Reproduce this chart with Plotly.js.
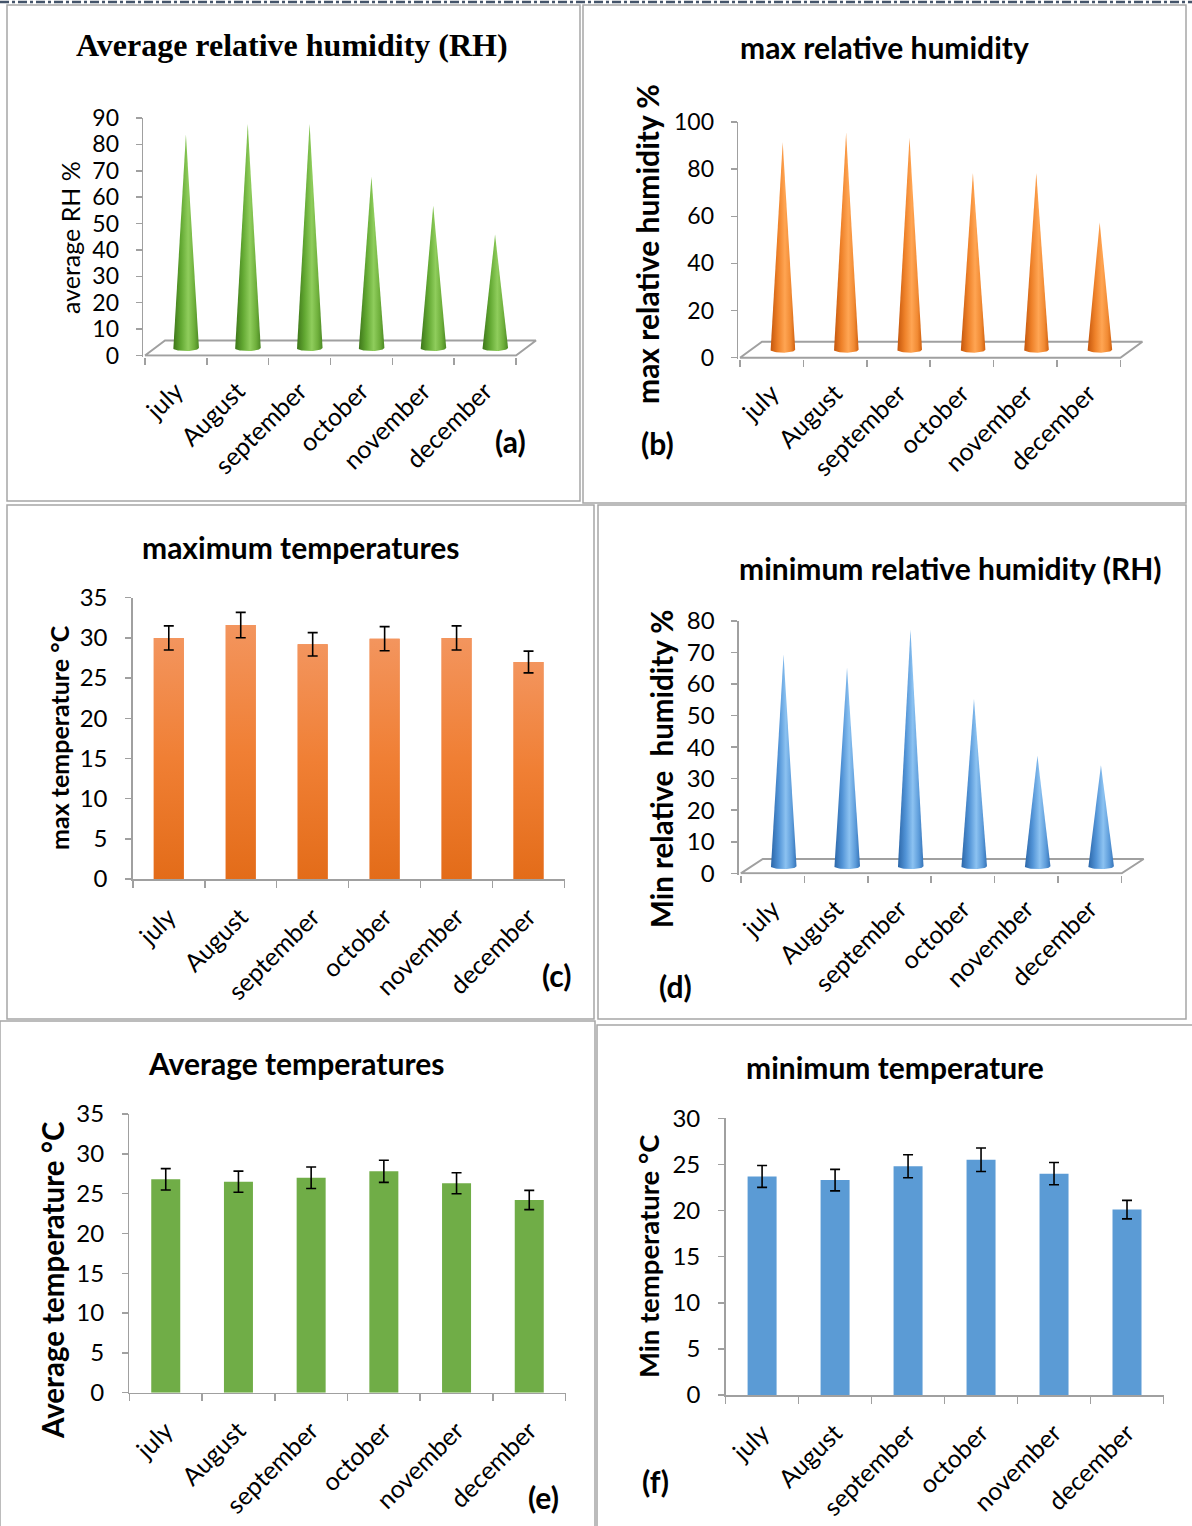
<!DOCTYPE html>
<html><head><meta charset="utf-8">
<script src="https://cdn.plot.ly/plotly-3.0.1.min.js"></script>
<style>html,body{margin:0;padding:0;background:#fff}#chart{width:1192px;height:1526px}</style>
</head><body><div id="chart"></div>
<script>
// ---------------- data ----------------
const months = ['july', 'August', 'september', 'october', 'november', 'december'];
const avgRH = [81, 85, 85, 65, 54, 43];
const maxRH = [88, 92, 90, 75, 75, 54];
const minRH = [67, 63, 75, 53, 35, 32];
const maxTemp = [30.0, 31.6, 29.2, 29.9, 30.0, 27.0];
const avgTemp = [26.8, 26.5, 27.0, 27.8, 26.3, 24.2];
const minTemp = [23.7, 23.3, 24.8, 25.5, 24.0, 20.1];
const errorPercent = 5;

const panelTitles = ['Average relative humidity (RH)', 'max relative humidity', 'maximum temperatures',
  'minimum relative humidity (RH)', 'Average temperatures', 'minimum temperature'];
const yTitles = ['average RH %', 'max relative humidity %', 'max temperature °C',
  'Min relative\u00A0 humidity %', 'Average temperature °C', 'Min temperature °C'];
const panelLetters = ['(a)', '(b)', '(c)', '(d)', '(e)', '(f)'];

// ---------------- helpers ----------------
const W = 1192, H = 1526;
const X = p => p / W, Y = p => 1 - p / H;
const SANS = 'Lato, "Open Sans", sans-serif';
const SERIF = '"Liberation Serif", "DejaVu Serif", serif';
const GRAY = '#A0A0A0';
const idx = months.map((m, i) => i);
const bounds = [-0.5, 0.5, 1.5, 2.5, 3.5, 4.5, 5.5];

const data = [];
const layout = {
  width: W, height: H, margin: {l: 0, r: 0, t: 0, b: 0},
  paper_bgcolor: '#fff', plot_bgcolor: 'rgba(0,0,0,0)', showlegend: false,
  shapes: [], annotations: []
};

function xAxisCfg(range, domain, tickSize, standoff, showline) {
  return {
    domain: domain, range: range, type: 'linear', fixedrange: true,
    tickmode: 'array', tickvals: idx, ticktext: months, tickangle: -45,
    ticks: '', showgrid: false, zeroline: false,
    showline: showline, linecolor: GRAY, linewidth: 1.5,
    tickfont: {family: SANS, size: tickSize, color: '#000'},
    ticklabelstandoff: standoff,
    minor: {tickmode: 'array', tickvals: bounds, ticks: 'outside', ticklen: 7, tickcolor: GRAY, tickwidth: 1.5, showgrid: false}
  };
}
function yAxisCfg(range, domain, dtick, tickSize, standoff) {
  return {
    domain: domain, range: range, fixedrange: true, tickmode: 'linear', tick0: 0, dtick: dtick,
    ticks: 'outside', ticklen: 6, tickcolor: GRAY, tickwidth: 1.5,
    showline: true, linecolor: GRAY, linewidth: 1.5, showgrid: false, zeroline: false,
    tickfont: {family: SANS, size: tickSize, color: '#000'}, ticklabelstandoff: standoff
  };
}

function conePanel(n, vals, c) {
  const s = n === 1 ? '' : String(n);
  const dxu = c.dxPx / c.unit;
  const xr = [-0.5 - 0.03, 5.5 + dxu + 0.04];
  const pxY = (c.y0 - c.ytop) / c.ymax;
  const eps = 1.2 / pxY;
  const dyu = c.dyPx / pxY;
  layout['xaxis' + s] = xAxisCfg(xr, [X(c.x0 - 0.03 * c.unit), X(c.x0 + (xr[1] + 0.5) * c.unit)], c.mtick, c.stand, false);
  layout['xaxis' + s].anchor = 'y' + s;
  layout['yaxis' + s] = yAxisCfg([-eps, c.ymax], [Y(c.y0 + 1.2), Y(c.ytop)], c.dtick, c.tick, c.ystand);
  layout['yaxis' + s].anchor = 'x' + s;
  // floor
  data.push({
    type: 'scatter', mode: 'lines', xaxis: 'x' + s, yaxis: 'y' + s, hoverinfo: 'skip',
    x: [-0.5, 5.5, 5.5 + dxu, -0.5 + dxu, -0.5], y: [0, 0, dyu, dyu, 0],
    line: {color: GRAY, width: 2}
  });
  const hw = c.hwPx / c.unit, e = c.ePx / pxY, base = dyu / 2;
  vals.forEach((v, k) => {
    const cx = k + dxu / 2;
    const xs = [cx], ys = [base + v];
    for (let t = 0; t <= 24; t++) {
      const th = Math.PI + Math.PI * t / 24;
      xs.push(cx + hw * Math.cos(th)); ys.push(base + e * Math.sin(th));
    }
    xs.push(cx); ys.push(base + v);
    data.push({
      type: 'scatter', mode: 'lines', xaxis: 'x' + s, yaxis: 'y' + s, name: months[k],
      x: xs, y: ys, fill: 'toself', line: {width: 0, color: 'rgba(0,0,0,0)'},
      fillgradient: {type: 'horizontal', colorscale: c.colors},
      hoverinfo: 'skip'
    });
  });
}

function barPanel(n, vals, c) {
  const s = n === 1 ? '' : String(n);
  const unit = (c.x1 - c.x0) / 6;
  layout['xaxis' + s] = xAxisCfg([-0.5, 5.5], [X(c.x0), X(c.x1)], c.mtick, c.stand, true);
  layout['xaxis' + s].anchor = 'y' + s;
  layout['yaxis' + s] = yAxisCfg([0, c.ymax], [Y(c.y0), Y(c.ytop)], 5, c.tick, c.ystand);
  layout['yaxis' + s].anchor = 'x' + s;
  const bw = c.bwPx / unit;
  const err = {type: 'percent', value: errorPercent, color: '#000', thickness: 1.6, width: 5};
  data.push({
    type: 'bar', x: idx, y: vals, width: bw, xaxis: 'x' + s, yaxis: 'y' + s,
    marker: {color: c.color, line: {width: 0}}, hoverinfo: 'skip',
    error_y: c.gradient ? {visible: false} : err
  });
  if (c.gradient) {
    vals.forEach((v, k) => {
      data.push({
        type: 'scatter', mode: 'lines', xaxis: 'x' + s, yaxis: 'y' + s, hoverinfo: 'skip',
        x: [k - bw / 2, k + bw / 2, k + bw / 2, k - bw / 2, k - bw / 2], y: [0, 0, v, v, 0],
        fill: 'toself', line: {width: 0, color: 'rgba(0,0,0,0)'},
        fillgradient: {type: 'vertical', colorscale: c.gradient}
      });
    });
    data.push({
      type: 'scatter', mode: 'markers', x: idx, y: vals, xaxis: 'x' + s, yaxis: 'y' + s,
      marker: {size: 1, opacity: 0}, error_y: err, hoverinfo: 'skip'
    });
  }
}

const greenCone = [[0, '#3D7619'], [0.3, '#62A832'], [0.58, '#8FCD5C'], [0.82, '#6EAF3B'], [1, '#4B8824']];
const orangeCone = [[0, '#C4560C'], [0.3, '#EE8129'], [0.58, '#FFA553'], [0.82, '#F18A33'], [1, '#CF600F']];
const blueCone = [[0, '#2B66A8'], [0.3, '#5193D6'], [0.58, '#8CC2F1'], [0.82, '#5D9CDA'], [1, '#3473B8']];

conePanel(1, avgRH, {x0: 145, unit: 61.83, y0: 355.5, ytop: 118, ymax: 90, dtick: 10, dxPx: 20, dyPx: 15, hwPx: 13, ePx: 3, colors: greenCone, tick: 23, mtick: 25, stand: 14, ystand: 12});
conePanel(2, maxRH, {x0: 740, unit: 63.4, y0: 357.7, ytop: 122, ymax: 100, dtick: 20, dxPx: 22, dyPx: 16, hwPx: 12.5, ePx: 3, colors: orangeCone, tick: 23, mtick: 25, stand: 14, ystand: 12});
barPanel(3, maxTemp, {x0: 132.8, x1: 564.5, y0: 879, ytop: 597.7, ymax: 35, bwPx: 30, color: '#EE8040', gradient: [[0, '#E36C19'], [0.5, '#F07F34'], [1, '#F3955E']], tick: 24, mtick: 25, stand: 12, ystand: 13});
conePanel(4, minRH, {x0: 740.8, unit: 63.48, y0: 873.3, ytop: 621, ymax: 80, dtick: 10, dxPx: 22, dyPx: 14.3, hwPx: 13, ePx: 3, colors: blueCone, tick: 24, mtick: 25, stand: 14, ystand: 12});
barPanel(5, avgTemp, {x0: 129.4, x1: 565.6, y0: 1392.7, ytop: 1114, ymax: 35, bwPx: 29, color: '#70AD47', tick: 24, mtick: 25, stand: 12, ystand: 13});
barPanel(6, minTemp, {x0: 725.6, x1: 1163.5, y0: 1395, ytop: 1118.3, ymax: 30, bwPx: 29, color: '#5B9BD5', tick: 24, mtick: 25, stand: 12, ystand: 13});

// ---------------- frames, texts ----------------
const boxes = [[7, 5, 580, 501], [583, 5, 1186, 503], [7, 505, 594, 1019], [598, 505, 1186, 1019], [0, 1021, 595, 1530], [597, 1025, 1194, 1530]];
boxes.forEach(b => layout.shapes.push({type: 'rect', xref: 'paper', yref: 'paper', x0: X(b[0]), x1: X(b[2]), y0: Y(b[3]), y1: Y(b[1]), line: {color: '#A6A6A6', width: 1.5}, layer: 'below'}));
layout.shapes.push({type: 'line', xref: 'paper', yref: 'paper', x0: 0, x1: 1, y0: Y(2), y1: Y(2), line: {color: '#44546A', width: 2.5, dash: 'dashdot'}});

const titlePos = [[292, 45], [884, 47], [300, 547], [950, 568], [296, 1063], [895, 1067]];
const titleFonts = [{family: SERIF, size: 32, color: '#000'}, null, null, null, null, null];
titlePos.forEach((p, i) => layout.annotations.push({
  xref: 'paper', yref: 'paper', x: X(p[0]), y: Y(p[1]), xanchor: 'center', yanchor: 'middle', showarrow: false,
  text: '<b>' + panelTitles[i] + '</b>', font: titleFonts[i] || {family: SANS, size: 30, color: '#000'}
}));
const yPos = [[70, 238, 25, false], [647, 244, 30, true], [59, 738, 25, true], [662, 769, 29.5, true], [52, 1280, 29.5, true], [648, 1256, 27.5, true]];
yPos.forEach((p, i) => layout.annotations.push({
  xref: 'paper', yref: 'paper', x: X(p[0]), y: Y(p[1]), xanchor: 'center', yanchor: 'middle', showarrow: false,
  textangle: -90, text: p[3] ? '<b>' + yTitles[i] + '</b>' : yTitles[i], font: {family: SANS, size: p[2], color: '#000'}
}));
const letterPos = [[510, 441], [657, 443], [557, 975], [675, 986], [543, 1497], [655, 1481]];
letterPos.forEach((p, i) => layout.annotations.push({
  xref: 'paper', yref: 'paper', x: X(p[0]), y: Y(p[1]), xanchor: 'center', yanchor: 'middle', showarrow: false,
  text: '<b>' + panelLetters[i] + '</b>', font: {family: SANS, size: 30, color: '#000'}
}));

Plotly.newPlot('chart', data, layout, {staticPlot: true, displayModeBar: false});
</script></body></html>
